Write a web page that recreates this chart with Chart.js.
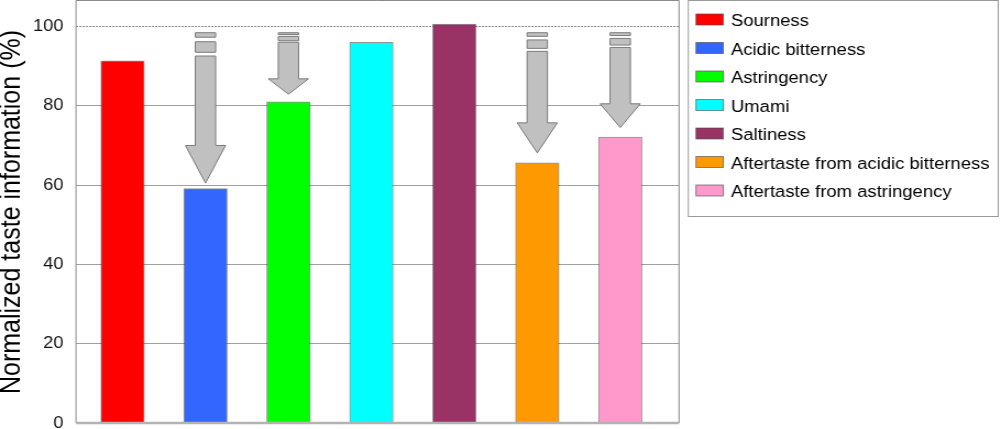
<!DOCTYPE html>
<html>
<head>
<meta charset="utf-8">
<script src="https://cdn.jsdelivr.net/npm/chart.js@4.4.1/dist/chart.umd.min.js"></script>
<style>
  html, body { margin: 0; padding: 0; background: #fff; overflow: hidden; }
  #wrap { position: absolute; left: 0; top: 0; width: 909px; height: 429px; transform: scaleX(1.1); transform-origin: 0 0; }
  canvas { display: block; }
</style>
</head>
<body>
<div id="wrap"><canvas id="c"></canvas></div>
<script>
// ---- data ----
const categories = ["Sourness", "Acidic bitterness", "Astringency", "Umami", "Saltiness",
                    "Aftertaste from acidic bitterness", "Aftertaste from astringency"];
const values = [91.3, 59.1, 81.0, 96.0, 100.6, 65.6, 72.1];
const barColors = ["#ff0000", "#3366ff", "#00ff00", "#00ffff", "#993366", "#ff9900", "#ff99cc"];
const arrowTop = 98.4;
const arrowTips = [null, 60.5, 82.9, null, null, 68.1, 74.5];
const yTicks = [0, 20, 40, 60, 80, 100];
const referenceLine = 100;
const yTitle = "Normalized taste information (%)";

const FONT = "'Liberation Sans', Arial, Helvetica, sans-serif";

const framePlugin = {
  id: 'frame',
  beforeDatasetsDraw(chart) {
    const { ctx, chartArea: a, scales: { y } } = chart;
    const py = Math.round(y.getPixelForValue(referenceLine)) + 0.5;
    ctx.save();
    ctx.strokeStyle = '#8a8a8a';
    ctx.lineWidth = 1;
    ctx.setLineDash([2, 1]);
    ctx.beginPath();
    ctx.moveTo(a.left, py);
    ctx.lineTo(a.right, py);
    ctx.stroke();
    ctx.restore();
  },
  afterDatasetsDraw(chart) {
    const { ctx, scales: { x, y } } = chart;
    arrowTips.forEach((tip, i) => {
      if (tip == null) return;
      const cx = x.getPixelForValue(i);
      const top = y.getPixelForValue(arrowTop);
      const tipY = y.getPixelForValue(tip);
      const L = tipY - top;
      const sw = 18.5 / 2, hw = 36.5 / 2;
      ctx.save();
      ctx.fillStyle = '#c0c0c0';
      ctx.strokeStyle = '#7a7a7a';
      ctx.lineWidth = 1;
      const rects = [[0, 0.03], [0.06, 0.13]];
      rects.forEach(([s, e]) => {
        ctx.beginPath();
        ctx.rect(cx - sw, top + s * L, 2 * sw, (e - s) * L);
        ctx.fill();
        ctx.stroke();
      });
      const hs = top + 0.75 * L;
      ctx.beginPath();
      ctx.moveTo(cx - sw, top + 0.155 * L);
      ctx.lineTo(cx + sw, top + 0.155 * L);
      ctx.lineTo(cx + sw, hs);
      ctx.lineTo(cx + hw, hs);
      ctx.lineTo(cx, tipY);
      ctx.lineTo(cx - hw, hs);
      ctx.lineTo(cx - sw, hs);
      ctx.closePath();
      ctx.fill();
      ctx.stroke();
      ctx.restore();
    });
  },
  afterDraw(chart) {
    const { ctx, chartArea: a } = chart;
    ctx.save();
    // plot frame
    ctx.strokeStyle = '#8a8a8a';
    ctx.lineWidth = 1;
    ctx.beginPath();
    ctx.moveTo(a.left, a.bottom);
    ctx.lineTo(a.left, a.top - 0.5);
    ctx.lineTo(a.right, a.top - 0.5);
    ctx.lineTo(a.right, a.bottom);
    ctx.stroke();
    // bottom axis line
    ctx.strokeStyle = '#b3b3b3';
    ctx.lineWidth = 2.5;
    ctx.beginPath();
    ctx.moveTo(a.left, a.bottom);
    ctx.lineTo(a.right, a.bottom);
    ctx.stroke();

    // legend box
    const bx = 625.7, by = 0.5, bw = 281.8, bh = 216;
    ctx.fillStyle = '#ffffff';
    ctx.fillRect(bx, by, bw, bh);
    ctx.strokeStyle = '#9a9a9a';
    ctx.lineWidth = 1;
    ctx.strokeRect(bx, by, bw, bh);
    ctx.font = `16.8px ${FONT}`;
    ctx.textBaseline = 'alphabetic';
    ctx.textAlign = 'left';
    categories.forEach((name, i) => {
      const sy = 14 + 28.5 * i;
      ctx.fillStyle = barColors[i];
      ctx.fillRect(632.7, sy, 24.8, 11);
      ctx.strokeStyle = 'rgba(70,70,70,0.6)';
      ctx.strokeRect(632.7, sy, 24.8, 11);
      ctx.fillStyle = '#000';
      ctx.fillText(name, 664.5, 26 + 28.5 * i);
    });
    ctx.restore();
  }
};

new Chart(document.getElementById('c'), {
  type: 'bar',
  data: {
    datasets: [{
      label: 'Normalized taste information',
      data: values.map((v, i) => ({ x: i, y: v })),
      backgroundColor: barColors,
      borderColor: 'rgba(60,60,60,0.55)',
      borderWidth: 1,
      borderSkipped: 'start',
      barThickness: 39.5
    }]
  },
  options: {
    responsive: true,
    maintainAspectRatio: false,
    animation: false,
    layout: { padding: { top: 1, bottom: 6, left: 0, right: 291.7 } },
    plugins: { legend: { display: false }, tooltip: { enabled: false } },
    scales: {
      x: {
        type: 'linear',
        min: -0.561,
        max: 6.709,
        offset: false,
        display: false
      },
      y: {
        min: 0,
        max: 106.4,
        afterBuildTicks: (s) => { s.ticks = yTicks.map(v => ({ value: v })); },
        afterFit: (s) => { s.width = 69.1; s.paddingTop = 0; s.paddingBottom = 0; },
        border: { display: false },
        grid: {
          drawTicks: false,
          lineWidth: 1,
          color: (ctx) => (ctx.tick && (ctx.tick.value === 0 || ctx.tick.value === 100)) ? 'rgba(0,0,0,0)' : '#a0a0a0'
        },
        ticks: {
          padding: 11.5,
          color: '#111',
          font: { family: FONT, size: 16.5 }
        },
        title: {
          display: true,
          text: yTitle,
          color: '#000',
          padding: 0,
          font: { family: FONT, size: 25, lineHeight: 0.92 }
        }
      }
    }
  },
  plugins: [framePlugin]
});
</script>
</body>
</html>
